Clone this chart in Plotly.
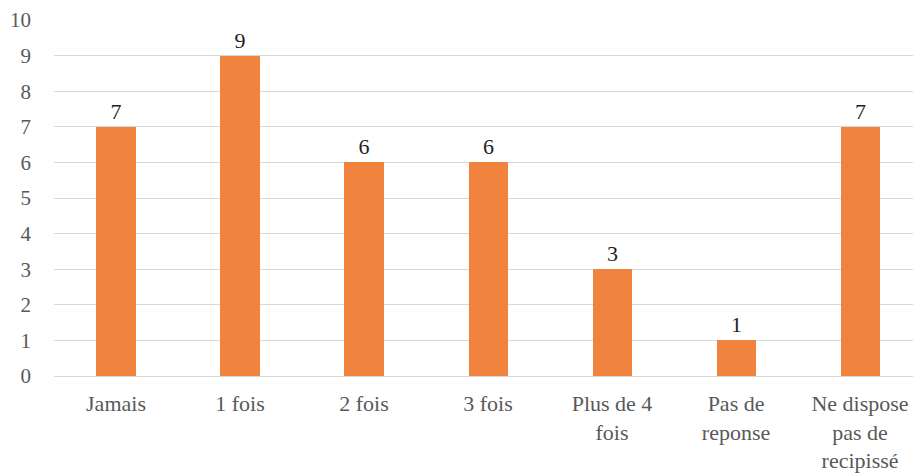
import plotly.graph_objects as go

categories = ["Jamais", "1 fois", "2 fois", "3 fois", "Plus de 4<br>fois",
              "Pas de<br>reponse", "Ne dispose<br>pas de<br>recipissé"]
values = [7, 9, 6, 6, 3, 1, 7]
y_ticks = list(range(0, 11))

serif = "Liberation Serif"

fig = go.Figure(
    go.Bar(
        x=categories,
        y=values,
        width=0.315,
        marker=dict(color="#F0843E", line=dict(width=0)),
        text=[str(v) for v in values],
        textposition="outside",
        textfont=dict(family=serif, size=22, color="#1f1f1f"),
        cliponaxis=False,
    )
)

fig.update_layout(
    width=913,
    height=476,
    margin=dict(l=54, r=0, t=20, b=100),
    paper_bgcolor="white",
    plot_bgcolor="white",
    showlegend=False,
    bargap=0,
    font=dict(family=serif, size=21, color="#595959"),
)

fig.update_xaxes(
    range=[-0.5, 6.427],
    showgrid=False,
    showline=False,
    ticks="",
    ticklabelstandoff=12,
    tickfont=dict(family=serif, size=22, color="#595959"),
)

fig.update_yaxes(
    range=[0, 10],
    tickvals=y_ticks,
    showgrid=True,
    gridcolor="#d9d9d9",
    gridwidth=1,
    zeroline=True,
    zerolinecolor="#d9d9d9",
    zerolinewidth=1,
    showline=False,
    ticks="",
    ticklabelstandoff=22,
    tickfont=dict(family=serif, size=21, color="#595959"),
)

fig.write_html("out.html")
